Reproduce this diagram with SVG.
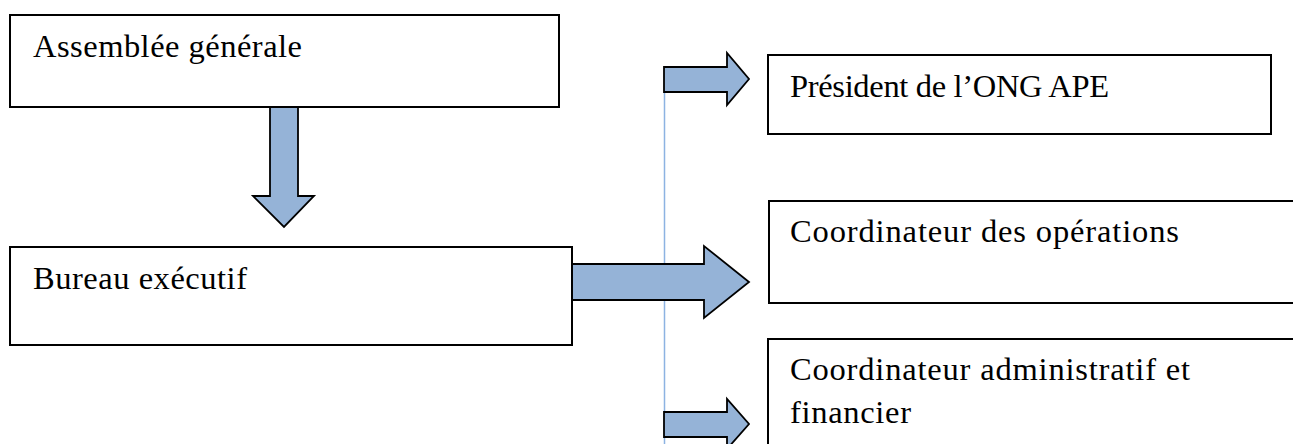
<svg xmlns="http://www.w3.org/2000/svg" width="1293" height="444" viewBox="0 0 1293 444">
<style>
.box{fill:#ffffff;stroke:#000000;stroke-width:2}
.lbl{font-family:"Liberation Serif","Times New Roman",serif;font-size:32.5px;fill:#000000}
.arr{fill:#95b3d7;stroke:#000000;stroke-width:1.8;stroke-linejoin:miter}
.thin{stroke:#8db3e2;stroke-width:1.5;fill:none}
</style>
<rect width="1293" height="444" fill="#ffffff"/>
<g id="connectors">
<line class="thin" x1="664.5" y1="92" x2="664.5" y2="444"/>
<path class="arr" d="M270,103 L298,103 L298,196 L314,196 L284,227 L253,196 L270,196 Z"/>
<path class="arr" d="M572,264 L704,264 L704,246 L749,282 L704,318 L704,300 L572,300 Z"/>
<path class="arr" d="M664,67 L727,67 L727,53 L749,79 L727,105 L727,92 L664,92 Z"/>
<path class="arr" d="M664,412 L727,412 L727,399 L749,424 L727,449 L727,437 L664,437 Z"/>
</g>
<g id="node-assemblee">
<rect class="box" x="10" y="15" width="549" height="92"/>
<text class="lbl" x="33" y="57" textLength="269" lengthAdjust="spacing">Assemblée générale</text>
</g>
<g id="node-bureau">
<rect class="box" x="10" y="247" width="562" height="98"/>
<text class="lbl" x="33" y="289" textLength="214" lengthAdjust="spacing">Bureau exécutif</text>
</g>
<g id="node-president">
<rect class="box" x="768" y="55" width="503" height="79"/>
<text class="lbl" x="790" y="97" textLength="319" lengthAdjust="spacing">Président de l’ONG APE</text>
</g>
<g id="node-operations">
<rect class="box" x="769" y="201" width="540" height="102"/>
<text class="lbl" x="790" y="242" textLength="389" lengthAdjust="spacing">Coordinateur des opérations</text>
</g>
<g id="node-admin">
<rect class="box" x="768" y="339" width="540" height="130"/>
<text class="lbl" x="790" y="380" textLength="400" lengthAdjust="spacing">Coordinateur administratif et</text>
<text class="lbl" x="790" y="423" textLength="121" lengthAdjust="spacing">financier</text>
</g>
</svg>
